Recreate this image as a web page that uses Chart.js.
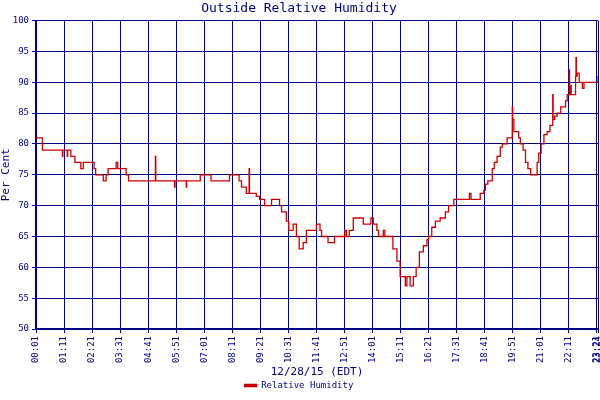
<!DOCTYPE html>
<html><head><meta charset="utf-8">
<script src="https://cdn.jsdelivr.net/npm/chart.js@4/dist/chart.umd.min.js"></script>
<style>html,body{margin:0;background:#fff}#w{width:600px;height:400px}</style>
</head><body><div id="w"><canvas id="c"></canvas></div>
<script>
const timesA = [1,17,50,67,68,79,80,88,98,113,119,146,150,169,176,181,201,205,226,232,271,276,299,300,347,348,351,376,377,388,411,438,484,508,514,526,533,534,551,559,572,589,590,609,614,626,632,643,651,658,668,676,701,710,714,730];
const valuesA = [81,79,79,78,79,78,79,78,77,76,77,76,75,74,75,76,77,76,75,74,74,74,78,74,73,74,74,73,74,74,75,74,75,74,73,72,76,72,71.5,71,70,71,71,70,69,67.5,66,67,65,63,64,66,67,66,65,64];
const timesB = [746,747,772,776,783,793,800,818,837,843,852,856,868,872,885,892,902,910,923,927,935,943,950,958,968,977,981,989,998,1010,1023,1031,1044,1081,1083,1087,1102,1110,1119,1123,1129,1140,1145,1152,1160,1165,1177,1187,1190,1191,1194,1196,1206,1210,1217,1223,1229,1236,1240,1252,1256,1262,1269,1277,1284,1290,1291,1292,1296,1302,1311,1323,1327,1332,1333,1334,1337,1346,1348,1349,1350,1352,1357,1365,1369,1401,1404];
const valuesB = [65,65,66,65,66,68,68,67,68,67,66,65,66,65,65,63,61,58.5,57,58.5,57,58.5,60,62.5,63.5,64.5,65,66.5,67.5,68,69,70,71,71,72,71,71,72,72.5,73.5,74,76,77,78,79.5,80,81,81,86,84,82,82,81,80,79,77,76,75,75,77,78.5,80,81.5,82,83,83,88,84,84.5,85,86,87,88,92,88,89.5,88,88,91,94,91,91.5,90,89,90,90,91];
const times = timesA.concat(timesB);
const values = valuesA.concat(valuesB);
const xTicks = [1,71,141,211,281,351,421,491,561,631,701,771,841,911,981,1051,1121,1191,1261,1331,1401,1404];
const yTicks = [50,55,60,65,70,75,80,85,90,95,100];
const navy = '#000080';
const fmt = m => String(Math.floor(m/60)).padStart(2,'0')+':'+String(m%60).padStart(2,'0');
const mono = "'DejaVu Sans Mono', monospace";
new Chart(document.getElementById('c'), {
  type:'line',
  data:{datasets:[{label:'Relative Humidity', data: times.map((t,i)=>({x:t,y:values[i]})),
    borderColor:'#cc0000', backgroundColor:'#cc0000', borderWidth:1.3, pointRadius:0, stepped:true, fill:false}]},
  options:{animation:false, responsive:true, maintainAspectRatio:false,
    layout:{padding:{left:0,right:2,top:0,bottom:0}},
    plugins:{
      title:{display:true,text:'Outside Relative Humidity',color:navy,font:{family:mono,size:13,weight:'normal'},padding:{top:1,bottom:4}},
      legend:{position:'bottom',labels:{color:navy,font:{family:mono,size:9},boxWidth:12,boxHeight:2,padding:2}},
      tooltip:{enabled:false}},
    scales:{
      x:{type:'linear',min:1,max:1404,
        afterBuildTicks:s=>{s.ticks=xTicks.map(v=>({value:v}));},
        afterFit:s=>{s.height=50;s.paddingLeft=0;s.paddingRight=0;},
        ticks:{color:navy,font:{family:mono,size:9},maxRotation:90,minRotation:90,autoSkip:false,callback:v=>fmt(v),padding:3},
        grid:{color:navy,lineWidth:1,drawTicks:true,tickLength:4},
        border:{color:navy,width:2},
        title:{display:true,text:'12/28/15 (EDT)',color:navy,font:{family:mono,size:11},padding:{top:2,bottom:0}}},
      y:{min:50,max:100,
        afterBuildTicks:s=>{s.ticks=yTicks.map(v=>({value:v}));},
        afterFit:s=>{s.width=36;},
        ticks:{color:navy,font:{family:mono,size:9},padding:3},
        grid:{color:navy,lineWidth:1,tickLength:4},
        border:{color:navy,width:2},
        title:{display:true,text:'Per Cent',color:navy,font:{family:mono,size:11},padding:0}}
    }}
});
</script></body></html>
